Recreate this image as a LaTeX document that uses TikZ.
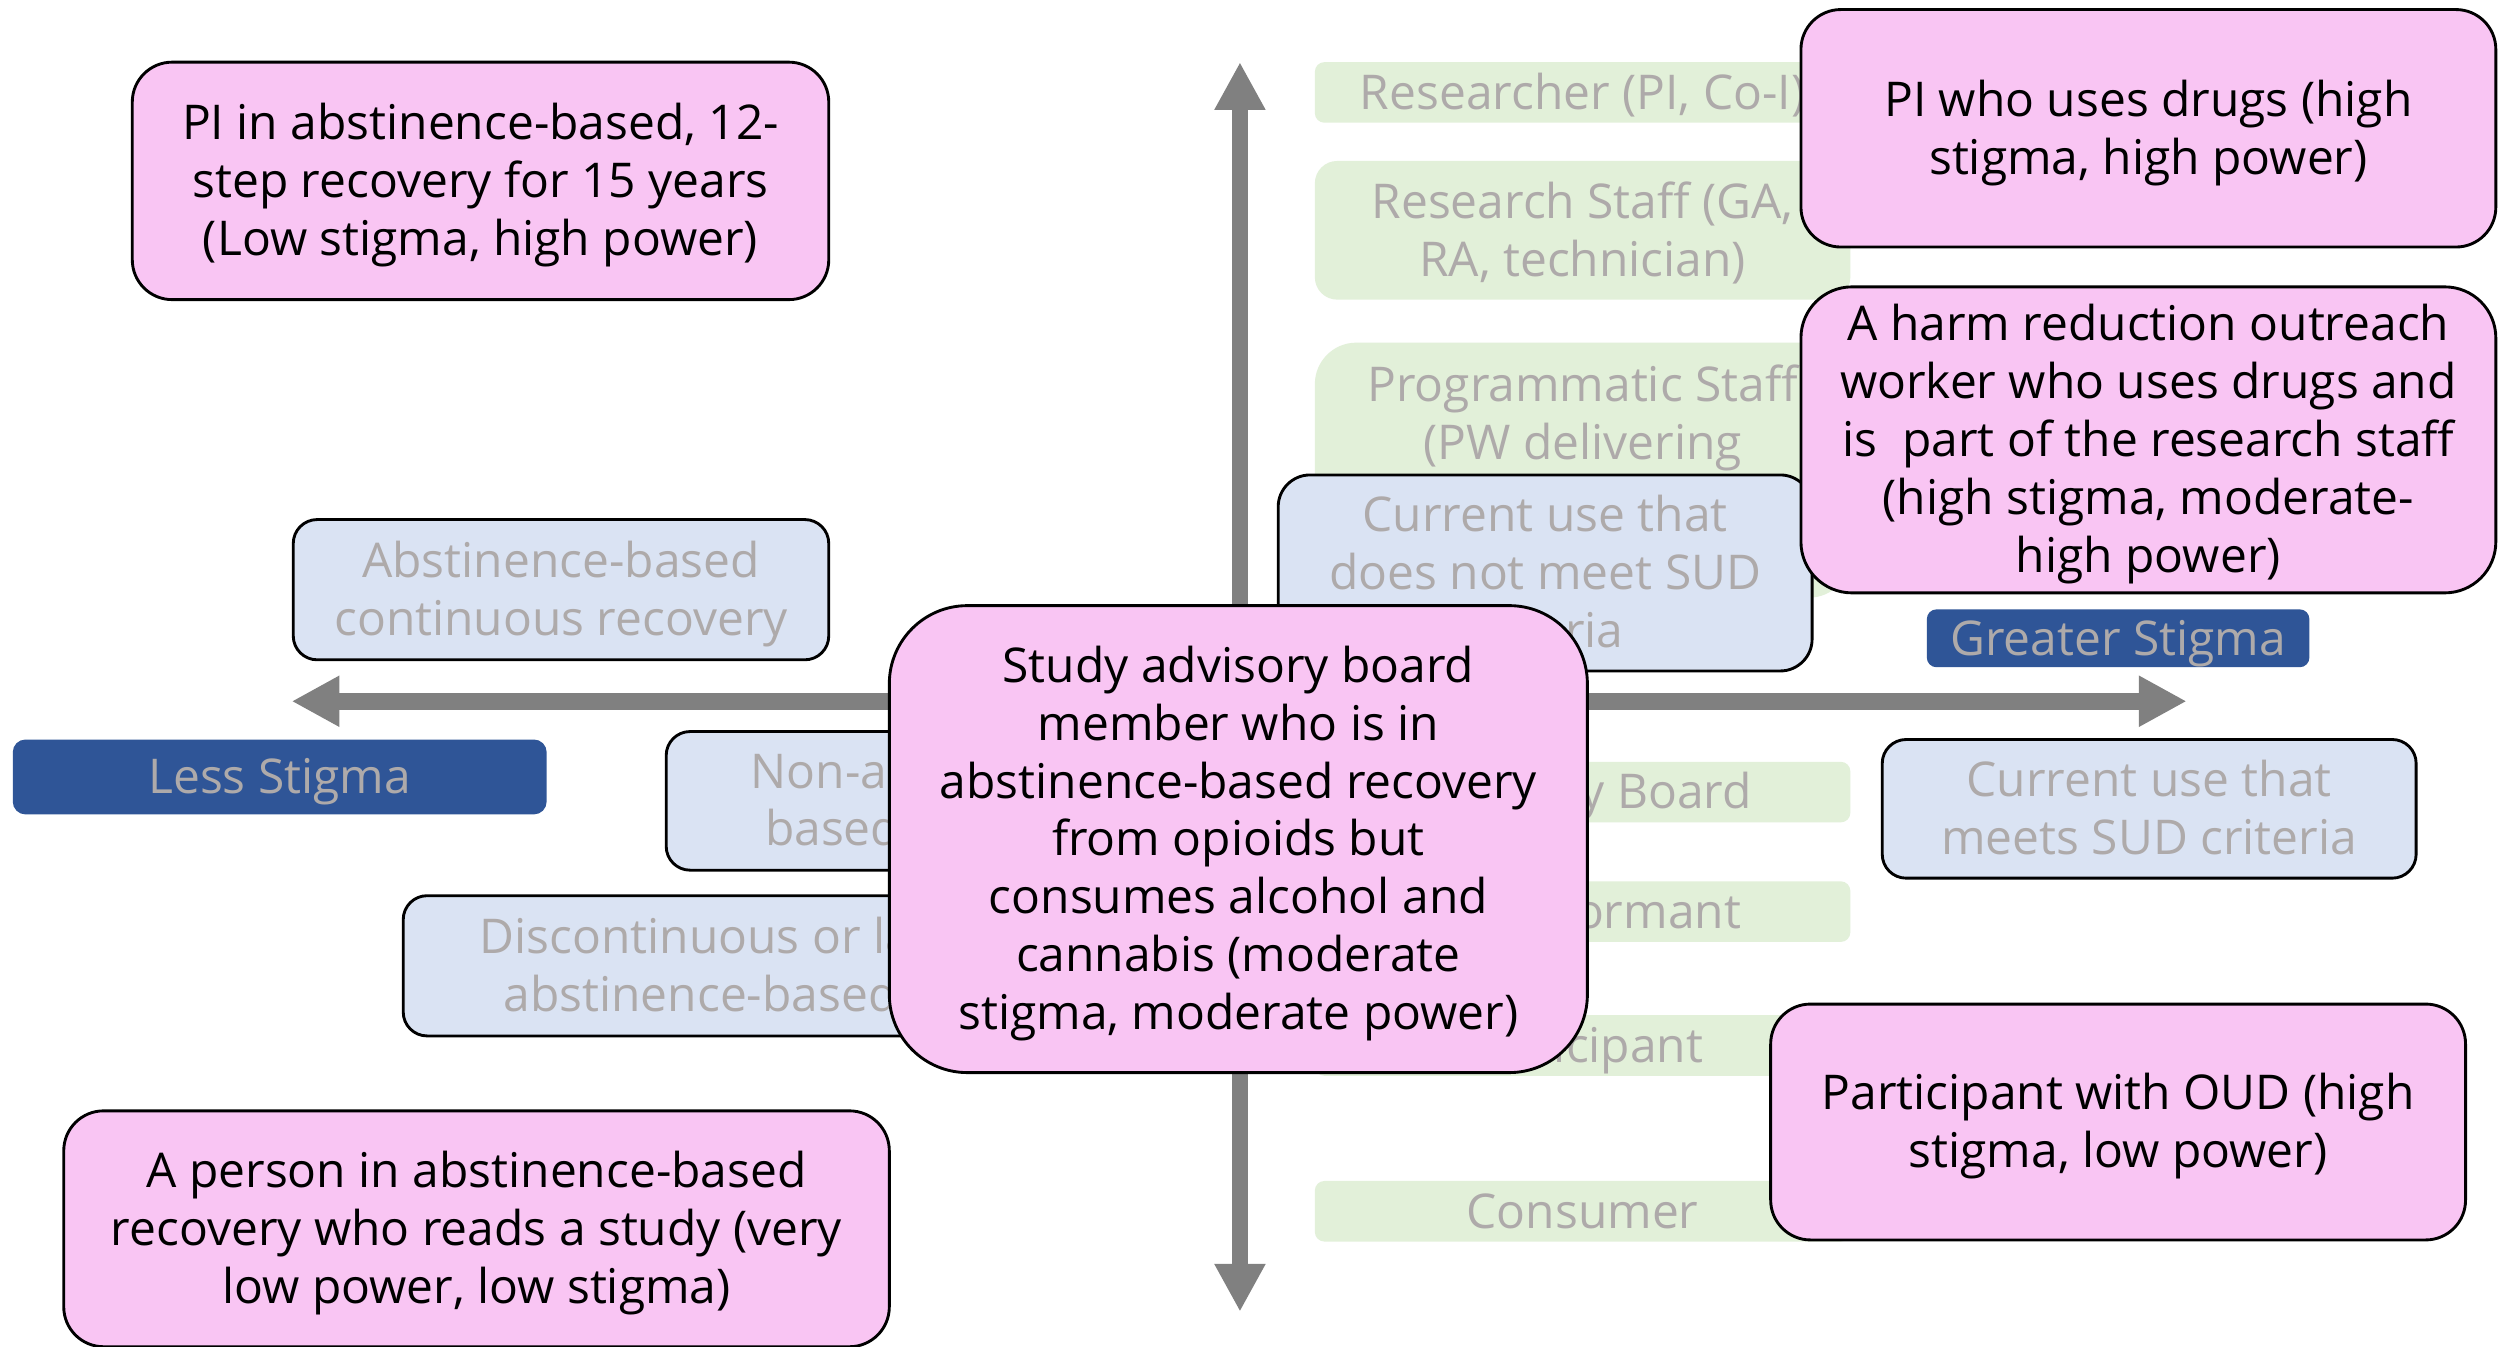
\documentclass[tikz,border=0pt]{standalone}
\usepackage{fontspec}
\setmainfont{Open Sans}
\usetikzlibrary{arrows.meta}
\definecolor{pinkfill}{HTML}{F9C5F3}
\definecolor{bluefill}{HTML}{DAE3F3}
\definecolor{greenfill}{HTML}{E2F0D9}
\definecolor{darkblue}{HTML}{2F5597}
\definecolor{graytext}{HTML}{AEAAAA}
\definecolor{axisgray}{HTML}{808080}
\newcommand\ls{\rule[-3.8pt]{0pt}{18.15pt}}
\begin{document}
\begin{tikzpicture}[x=0.5pt,y=-0.5pt,
  every node/.style={inner sep=0pt, outer sep=0pt, align=center,
    font=\fontsize{15.03pt}{18.15pt}\selectfont},
  pinkbox/.style={draw=black, line width=0.9pt, fill=pinkfill, text=black},
  bluebox/.style={draw=black, line width=0.9pt, fill=bluefill, text=graytext},
  greenbox/.style={fill=greenfill, text=graytext, minimum width=168pt},
  labelbox/.style={fill=darkblue, text=graytext},
  graytxt/.style={text=graytext},
  axis/.style={draw=axisgray, line width=5.25pt,
    {Triangle[length=15pt,width=15pt]}-{Triangle[length=15pt,width=15pt]}}
]
\useasboundingbox[fill=white] (0,0) rectangle (1568,845);

% axes
\coordinate (vtop) at (778,39);
\coordinate (vbot) at (778,823);
\coordinate (hleft) at (183,440);
\coordinate (hright) at (1372,440);
\draw[axis] (vbot) -- (vtop);
\draw[axis] (hleft) -- (hright);

% green role boxes
\node[greenbox, minimum height=19pt, rounded corners=3pt] (researcher) at (993,58) {\ls Researcher (PI, Co-I)};
\node[greenbox, minimum height=43.5pt, rounded corners=7pt] (resstaff) at (993,144.5) {\ls Research Staff (GA,\\\ls RA, technician)};
\node[greenbox, minimum height=80pt, rounded corners=13pt] (progstaff) at (993,295) {};
\node[graytxt] (progtxt) at (993,259.5) {\ls Programmatic Staff\\\ls (PW delivering};
\node[greenbox, minimum height=19pt, rounded corners=3pt] (advboard) at (993,497) {\ls Advisory Board};
\node[greenbox, minimum height=19pt, rounded corners=3pt] (keyinf) at (993,572) {\ls Key Informant};
\node[greenbox, minimum height=19pt, rounded corners=3pt] (particip) at (993,656) {\ls Participant};
\node[greenbox, minimum height=19pt, rounded corners=3pt] (consumer) at (993,760) {\ls Consumer};

% blue use boxes
\node[bluebox, minimum width=168pt, minimum height=44pt, rounded corners=7.5pt] (abst) at (352,370) {\ls Abstinence-based\\\ls continuous recovery};
\node[bluebox, minimum width=155pt, minimum height=43.5pt, rounded corners=7.5pt] (nonab) at (573,502.5) {};
\node[graytxt, anchor=west] (nonab1) at (471,484) {\ls Non-abstinence-};
\node[graytxt, anchor=west] (nonab2) at (480,520) {\ls based recovery};
\node[bluebox, minimum width=223.5pt, minimum height=44pt, rounded corners=7.5pt] (discont) at (476.5,606) {};
\node[graytxt, anchor=west] (discont1) at (301,588) {\ls Discontinuous or lapsed};
\node[graytxt, anchor=west] (discont2) at (316,624) {\ls abstinence-based recovery};
\node[bluebox, minimum width=167.5pt, minimum height=61.5pt, rounded corners=10pt] (notmeet) at (969.5,359.5) {\ls Current use that\\\ls does not meet SUD\\\ls criteria};
\node[bluebox, minimum width=167.5pt, minimum height=43.5pt, rounded corners=7.5pt] (meets) at (1348.5,507.5) {\ls Current use that\\\ls meets SUD criteria};

% axis labels
\node[labelbox, minimum width=167.5pt, minimum height=23.5pt, rounded corners=4pt] (less) at (175.5,487.5) {\ls Less Stigma};
\node[labelbox, minimum width=120pt, minimum height=17.5pt, rounded corners=3pt] (greater) at (1329,400.5) {\ls Greater Stigma};

% pink example boxes
\node[pinkbox, minimum width=218.5pt, minimum height=74.5pt, rounded corners=12.5pt] (pi) at (301.5,113.5) {\ls PI in abstinence-based, 12-\\\ls step recovery for 15 years\\\ls (Low stigma, high power)};
\node[pinkbox, minimum width=218pt, minimum height=74.5pt, rounded corners=12.5pt] (pidrugs) at (1348,80.5) {\ls PI who uses drugs (high\\\ls stigma, high power)};
\node[pinkbox, minimum width=218pt, minimum height=96pt, rounded corners=16pt] (harm) at (1348,276) {\ls A harm reduction outreach\\\ls worker who uses drugs and\\\ls is\ \ part of the research staff\\\ls (high stigma, moderate-\\\ls high power)};
\node[pinkbox, minimum width=219pt, minimum height=146.5pt, rounded corners=24.5pt] (board) at (777,526.5) {\ls Study advisory board\\\ls member who is in\\\ls abstinence-based recovery\\\ls from opioids but\\\ls consumes alcohol and\\\ls cannabis (moderate\\\ls stigma, moderate power)};
\node[pinkbox, minimum width=218pt, minimum height=74pt, rounded corners=12.5pt] (oud) at (1329,704) {\ls Participant with OUD (high\\\ls stigma, low power)};
\node[pinkbox, minimum width=259pt, minimum height=74pt, rounded corners=12.5pt] (reader) at (299,771) {\ls A person in abstinence-based\\\ls recovery who reads a study (very\\\ls low power, low stigma)};
\end{tikzpicture}
\end{document}
